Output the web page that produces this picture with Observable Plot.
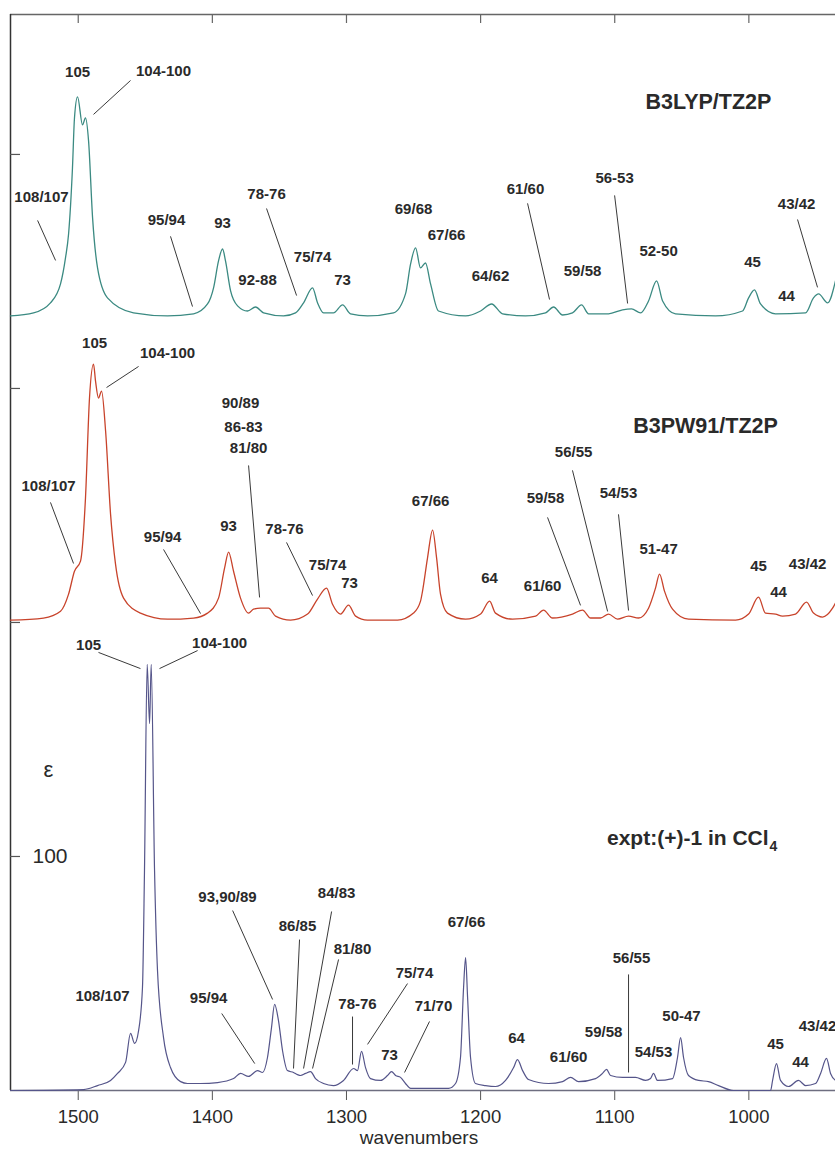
<!DOCTYPE html>
<html><head><meta charset="utf-8">
<script src="https://cdn.jsdelivr.net/npm/d3@7"></script>
<script src="https://cdn.jsdelivr.net/npm/@observablehq/plot@0.6"></script>
<style>html,body{margin:0;padding:0;background:#fff;overflow:hidden}svg{display:block}</style>
</head><body><div id="chart"></div>
<script>
// ---- spectra (wavenumber, intensity) ----
const b3lypWn = [1550.5,1533.3,1520.7,1513.2,1509.5,1507.2,1504.3,1502.8,1500.5,1496.8,1494.6,1492.3,1489.3,1485.6,1478.2,1458.8,1433.4,1414.0,1403.6,1399.1,1395.4,1392.4,1390.2,1386.4,1381.2,1373.8,1367.8,1361.8,1346.9,1338.0,1332.0,1325.3,1321.6,1317.1,1309.7,1302.9,1297.0,1284.3,1264.9,1256.0,1252.2,1248.5,1244.8,1241.1,1237.3,1231.4,1211.2,1200.0,1191.8,1183.6,1166.5,1151.6,1145.6,1138.9,1131.5,1124.7,1119.5,1104.6,1094.2,1087.5,1080.7,1074.8,1068.8,1064.3,1054.7,1024.8,1004.7,1000.2,995.8,991.3,980.1,957.7,951.8,948.0,941.3,935.4];
const b3lypInt = [0,1.3,5.6,13.7,24.8,35.0,63.2,84.6,93.6,81.6,84.6,74.8,41.9,20.5,7.7,1.3,0,0.9,5.1,12.0,23.5,28.6,23.5,10.7,4.3,2.1,3.8,1.3,0,1.3,5.6,12.0,5.6,1.3,1.3,4.7,0.9,0,1.3,9.4,22.2,29.1,20.5,22.6,13.7,2.1,0,2.1,5.1,0.9,0,1.3,3.8,0.4,1.3,4.7,0.9,0.9,2.6,3.0,1.3,6.4,15.0,6.4,0.9,0,2.1,7.7,11.1,5.1,0.9,1.3,7.7,9.4,5.6,15.0];
const b3lypOffset = 331;

const b3pw91Wn = [1550.5,1525.9,1513.2,1507.2,1502.8,1498.3,1494.6,1491.6,1488.6,1487.1,1484.9,1482.6,1479.6,1475.9,1472.2,1466.2,1453.6,1433.4,1414.0,1403.6,1395.4,1390.9,1387.9,1384.2,1379.0,1373.0,1369.3,1364.1,1358.1,1352.9,1341.7,1329.0,1321.6,1314.9,1310.4,1304.4,1298.5,1293.2,1284.3,1261.9,1250.0,1244.8,1243.3,1239.6,1235.8,1232.8,1229.9,1224.7,1211.2,1200.0,1193.3,1188.9,1176.2,1159.0,1153.1,1146.4,1131.5,1124.0,1118.0,1110.6,1104.6,1097.9,1089.7,1082.2,1074.8,1069.6,1066.6,1062.9,1056.9,1045.0,1009.9,1000.2,992.8,987.6,980.1,974.9,965.2,957.0,951.8,945.1,937.6,935.4];
const b3pw91Int = [0,0.9,3.8,11.1,20.9,25.2,52.1,94.9,109.4,102.1,94.9,97.9,80.8,45.3,23.9,9.4,3.0,0.4,0.9,3.0,9.4,22.2,29.1,20.9,9.4,3.0,4.7,5.1,5.1,1.7,0,2.6,9.0,13.7,6.8,2.6,6.4,1.7,0,0,3.0,8.1,12.4,26.5,38.5,26.5,11.1,3.0,0.4,2.6,8.1,3.0,0.4,1.7,4.3,0.9,2.6,4.3,0.9,0.9,2.6,0.4,1.7,0.9,5.1,13.7,19.7,12.4,4.7,0.4,0,2.6,9.8,3.0,2.6,1.7,2.6,7.7,3.0,1.3,5.1,7.3];
const b3pw91Offset = 201;

const exptWn = [1550.5,1496.0,1485.6,1475.9,1470.7,1464.7,1461.0,1458.0,1455.0,1452.1,1450.6,1448.6,1446.8,1445.6,1443.1,1440.9,1436.4,1431.2,1423.7,1418.5,1408.8,1396.1,1384.2,1379.0,1373.0,1366.3,1362.6,1358.9,1355.9,1353.6,1350.7,1347.7,1344.0,1339.5,1336.5,1334.3,1330.5,1326.8,1323.1,1317.1,1309.7,1302.2,1294.7,1291.8,1288.8,1285.8,1282.1,1274.6,1269.4,1266.4,1263.4,1259.7,1256.0,1252.2,1223.9,1218.7,1215.0,1212.7,1211.2,1209.7,1207.5,1203.8,1196.3,1188.9,1181.4,1175.4,1172.5,1168.7,1164.3,1149.3,1138.9,1132.9,1127.0,1114.3,1109.1,1106.1,1103.1,1094.2,1084.5,1077.0,1073.3,1071.1,1068.1,1056.9,1053.2,1050.9,1048.7,1045.0,1037.5,1030.1,1022.6,1011.4,983.8,982.3,979.4,976.4,970.4,963.0,957.7,950.3,946.5,942.1,939.1,935.4];
const exptEps = [0,0.4,2.1,4.3,7.3,12.0,24.4,20.1,25.6,44.0,94.0,182.1,156.8,182.1,94.0,51.3,22.6,9.8,3.8,3.0,3.0,3.4,5.1,7.3,6.0,8.5,7.7,14.1,26.9,36.8,29.9,17.1,8.5,7.7,6.8,6.4,7.3,8.1,5.1,3.0,2.1,4.3,9.4,8.5,16.7,9.8,5.1,4.3,6.4,8.1,6.4,5.6,3.0,0.9,0.9,3.0,14.1,44.0,56.8,39.7,14.1,3.0,2.1,1.7,4.3,9.8,13.2,8.5,4.7,3.0,3.8,5.6,3.8,5.1,7.3,9.0,6.4,5.6,5.6,4.3,5.1,7.3,4.3,5.1,14.1,22.6,14.1,6.4,4.3,3.8,2.1,0,0,4.3,11.5,4.3,1.7,4.3,2.1,3.0,7.3,13.7,7.3,4.3];
const exptOffset = 0;

// ---- axes ----
const xTicks = [1500, 1400, 1300, 1200, 1100, 1000];
const yTicks = [100, 200, 300, 400];
const yLabelTicks = [100];

// ---- band labels: [text, wavenumber, y] ----
const b3lypLabels = [["105",1500.5,435.0],["104-100",1436.4,435.5],["108/107",1527.4,381.6],["95/94",1434.2,371.8],["93",1392.4,370.5],["78-76",1359.6,382.9],["92-88",1366.3,346.2],["75/74",1325.3,356.0],["73",1302.9,346.2],["69/68",1250.0,376.5],["67/66",1225.4,365.4],["64/62",1192.6,347.9],["61/60",1166.5,385.0],["59/58",1124.0,350.0],["56-53",1100.1,389.7],["52-50",1067.3,358.5],["45",997.2,353.8],["44",971.9,339.3],["43/42",964.4,378.6]];
const b3lypLeaders = [[1461.0,431.6,1488.6,417.1],[1530.3,371.8,1516.9,354.7],[1431.2,365.0,1414.8,335.0],[1359.6,376.9,1337.2,339.7],[1165.0,379.1,1148.6,338.0],[1100.1,382.5,1090.4,336.3],[963.7,372.2,948.8,343.2]];

const b3pw91Labels = [["105",1487.8,319.2],["104-100",1433.4,315.0],["108/107",1522.1,258.1],["95/94",1437.1,236.3],["93",1387.9,241.0],["90/89",1379.0,293.6],["86-83",1376.8,283.3],["81/80",1373.0,274.4],["78-76",1346.2,239.7],["75/74",1314.1,224.4],["73",1297.7,216.7],["67/66",1237.3,251.7],["64",1193.3,218.8],["61/60",1153.8,215.4],["59/58",1151.6,253.0],["56/55",1130.7,272.6],["54/53",1097.2,255.1],["51-47",1067.3,231.2],["45",992.8,223.9],["44",977.9,212.8],["43/42",956.2,224.8]];
const b3pw91Leaders = [[1455.0,309.4,1478.9,300.4],[1520.7,251.3,1503.5,225.2],[1436.4,231.2,1408.8,203.8],[1373.0,267.1,1364.8,210.7],[1344.7,234.2,1325.3,211.5],[1150.1,244.9,1125.5,207.3],[1131.5,265.0,1105.3,204.7],[1097.2,246.2,1089.7,205.1]];

const exptLabels = [["105",1492.3,190.2],["104-100",1394.6,191.0],["108/107",1481.9,40.2],["95/94",1402.8,39.3],["93,90/89",1388.7,82.5],["86/85",1336.5,70.1],["84/83",1307.4,84.2],["81/80",1295.5,60.3],["78-76",1291.8,36.8],["75/74",1249.3,50.0],["73",1267.9,15.0],["71/70",1235.1,35.9],["67/66",1210.5,71.8],["64",1173.2,22.2],["61/60",1134.4,14.1],["59/58",1108.3,24.8],["56/55",1087.5,56.4],["54/53",1071.1,16.2],["50-47",1050.2,31.6],["45",980.1,19.7],["44",961.5,12.0],["43/42",948.8,27.4]];
const exptLeaders = [[1484.9,187.2,1453.6,180.3],[1411.0,188.0,1439.4,180.3],[1393.0,32.9,1368.4,11.5],[1384.9,76.9,1355.1,38.9],[1335.0,64.5,1339.5,9.4],[1311.1,76.5,1332.0,9.4],[1305.9,56.0,1325.3,9.4],[1295.5,31.6,1295.5,11.1],[1254.5,45.7,1284.3,19.7],[1238.1,29.5,1256.7,7.7],[1089.7,49.6,1089.7,7.7]];

const titles = [["B3LYP/TZ2P",1030.1,422.2],["B3PW91/TZ2P",1032.3,283.8]];
const exptTitle = ["expt:(+)-1 in CCl", 985.3, 107.7];
const exptSub = ["4", 985.3, 104.3];

// ---- build tables ----
const toRows = (wn, iv, off) => wn.map((w, i) => ({w, v: iv[i] + off}));
const b3lypRows = toRows(b3lypWn, b3lypInt, b3lypOffset);
const b3pw91Rows = toRows(b3pw91Wn, b3pw91Int, b3pw91Offset);
const exptRows = toRows(exptWn, exptEps, exptOffset);
const labels = [...b3lypLabels, ...b3pw91Labels, ...exptLabels].map(([t, w, y]) => ({t, w, y}));
const leaders = [...b3lypLeaders, ...b3pw91Leaders, ...exptLeaders].map(([x1, y1, x2, y2]) => ({x1, y1, x2, y2}));

const xDomain = [1550.5, 935.4];
const yDomain = [0, 459.8];
const font = "'Liberation Sans', Arial, Helvetica, sans-serif";

const chart = Plot.plot({
  width: 835,
  height: 1149,
  marginLeft: 10, marginRight: 0, marginTop: 14, marginBottom: 59,
  style: {fontFamily: font, background: "#fff", color: "#2a2a2a"},
  x: {domain: xDomain},
  y: {domain: yDomain, axis: null},
  marks: [
    Plot.axisX({ticks: xTicks, tickFormat: d => String(d), tickSize: 10, tickPadding: 9, fontSize: 18.5, label: null, stroke: "#555"}),
    Plot.ruleY([yDomain[1]], {stroke: "#666", strokeWidth: 1.3}),
    Plot.ruleX([xDomain[0]], {stroke: "#333", strokeWidth: 1.5}),
    Plot.tickX(xTicks, {x: d => d, insetBottom: 1067, stroke: "#666", strokeWidth: 1.2}),
    Plot.tickY(yTicks, {y: d => d, insetRight: 815, stroke: "#555", strokeWidth: 1.2}),
    Plot.text(yLabelTicks, {y: d => d, text: d => String(d), frameAnchor: "left", dx: 22, textAnchor: "start", fontSize: 21, fill: "#2a2a2a"}),
    Plot.text(["ε"], {y: 136.8, frameAnchor: "left", dx: 33, text: d => d, fontSize: 22, fill: "#2a2a2a"}),
    Plot.text(["wavenumbers"], {frameAnchor: "bottom", dy: 53, dx: -4, text: d => d, fontSize: 19, fill: "#2a2a2a"}),
    Plot.line(b3lypRows, {x: "w", y: "v", stroke: "#3b8a82", strokeWidth: 1.3, curve: "monotone-x"}),
    Plot.line(b3pw91Rows, {x: "w", y: "v", stroke: "#c8432b", strokeWidth: 1.3, curve: "monotone-x"}),
    Plot.ruleY([0], {stroke: "#6e6e80", strokeWidth: 1.5}),
    Plot.line(exptRows, {x: "w", y: "v", stroke: "#55558a", strokeWidth: 1.2, curve: "monotone-x"}),
    Plot.link(leaders, {x1: "x1", y1: "y1", x2: "x2", y2: "y2", stroke: "#222", strokeWidth: 0.9}),
    Plot.text(labels, {x: "w", y: "y", text: "t", fontSize: 15, fontWeight: "bold", fill: "#2a2a2a"}),
    Plot.text(titles, {x: d => d[1], y: d => d[2], text: d => d[0], fontSize: 21.5, fontWeight: "bold", fill: "#2a2a2a"}),
    Plot.text([exptTitle], {x: d => d[1], y: d => d[2], text: d => d[0], textAnchor: "end", fontSize: 21, fontWeight: "bold", fill: "#2a2a2a"}),
    Plot.text([exptSub], {x: d => d[1], y: d => d[2], text: d => d[0], textAnchor: "start", dx: 1, fontSize: 14, fontWeight: "bold", fill: "#2a2a2a"})
  ]
});
document.getElementById("chart").append(chart);
</script>
</body></html>
